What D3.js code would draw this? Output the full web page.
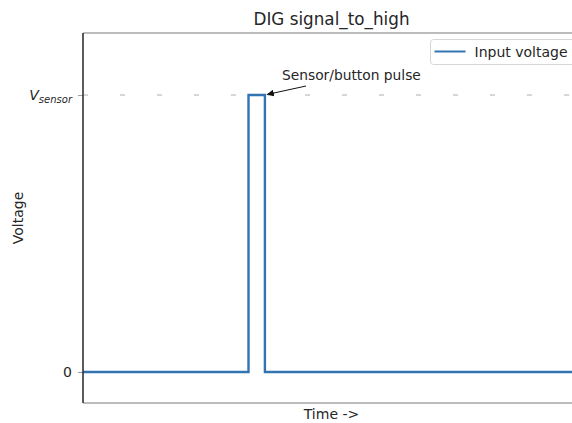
<!DOCTYPE html>
<html>
<head>
<meta charset="utf-8">
<script src="https://cdn.jsdelivr.net/npm/d3@7"></script>
<style>
  body { margin: 0; background: #fff; }
  svg { font-family: "DejaVu Sans", sans-serif; }
</style>
</head>
<body>
<div id="chart"></div>
<script>
// signal data: time (arbitrary units) and normalised voltage (1 = V_sensor)
const times = [0, 33.3, 33.3, 36.6, 36.6, 100];
const voltages = [0, 0, 1, 1, 0, 0];
const yTickValues = [0, 1];
const seriesName = 'Input voltage';
const annotationText = 'Sensor/button pulse';

const width = 572;
const height = 423;
const margin = { top: 33, right: -8, bottom: 20, left: 83 };
const plotRight = width - margin.right;
const plotBottom = height - margin.bottom;

const svg = d3.select('#chart')
    .append('svg')
    .attr('width', width)
    .attr('height', height);

const data = times.map((t, i) => ({ t: t, v: voltages[i] }));

// scales
const xScale = d3.scaleLinear()
    .domain([0, 100])
    .range([margin.left, plotRight]);

const yScale = d3.scaleLinear()
    .domain([-0.112, 1.224])
    .range([plotBottom, margin.top]);

// title
svg.append('text')
    .attr('x', (margin.left + plotRight) / 2)
    .attr('y', 25)
    .attr('text-anchor', 'middle')
    .attr('font-size', 16.8)
    .attr('fill', '#262626')
    .text('DIG signal_to_high');

// dashed reference line at V_sensor
svg.append('line')
    .attr('x1', xScale(0))
    .attr('x2', plotRight)
    .attr('y1', yScale(1))
    .attr('y2', yScale(1))
    .attr('stroke', '#b0b0b0')
    .attr('stroke-width', 1)
    .attr('stroke-dasharray', '5,32');

// the signal
const line = d3.line()
    .x(d => xScale(d.t))
    .y(d => yScale(d.v));

svg.append('path')
    .datum(data)
    .attr('d', line)
    .attr('fill', 'none')
    .attr('stroke', '#3274b2')
    .attr('stroke-width', 2.4);

// spines
svg.append('line')
    .attr('x1', margin.left).attr('x2', plotRight)
    .attr('y1', margin.top).attr('y2', margin.top)
    .attr('stroke', '#7a7a7a').attr('stroke-width', 1.2);
svg.append('line')
    .attr('x1', margin.left).attr('x2', plotRight)
    .attr('y1', plotBottom).attr('y2', plotBottom)
    .attr('stroke', '#7a7a7a').attr('stroke-width', 1.2);

// y axis
const yAxis = d3.axisLeft(yScale)
    .tickValues(yTickValues)
    .tickSize(5)
    .tickPadding(6)
    .tickFormat(d => d === 0 ? '0' : '');

const yAxisG = svg.append('g')
    .attr('transform', 'translate(' + margin.left + ',0)')
    .call(yAxis);

yAxisG.select('.domain').remove();
yAxisG.selectAll('.tick line').attr('stroke', '#999');
yAxisG.selectAll('.tick text')
    .attr('font-size', 14)
    .attr('font-family', '"DejaVu Sans", sans-serif')
    .attr('fill', '#262626');

// V_sensor label with subscript
const vLabel = yAxisG.selectAll('.tick')
    .filter(d => d === 1)
    .select('text')
    .attr('font-style', 'italic');
vLabel.append('tspan').text('V');
vLabel.append('tspan')
    .attr('font-size', 10)
    .attr('dy', 3)
    .text('sensor');

// left spine, darker
svg.append('line')
    .attr('x1', margin.left).attr('x2', margin.left)
    .attr('y1', margin.top).attr('y2', plotBottom)
    .attr('stroke', '#333').attr('stroke-width', 1.6);

// axis labels
svg.append('text')
    .attr('x', (margin.left + plotRight) / 2)
    .attr('y', 419)
    .attr('text-anchor', 'middle')
    .attr('font-size', 14)
    .attr('fill', '#262626')
    .text('Time ->');

svg.append('text')
    .attr('transform', 'translate(23,' + ((margin.top + plotBottom) / 2) + ') rotate(-90)')
    .attr('text-anchor', 'middle')
    .attr('font-size', 14)
    .attr('fill', '#262626')
    .text('Voltage');

// annotation with arrow
svg.append('defs').append('marker')
    .attr('id', 'arrow')
    .attr('viewBox', '0 0 10 10')
    .attr('refX', 10).attr('refY', 5)
    .attr('markerWidth', 7).attr('markerHeight', 7)
    .attr('markerUnits', 'userSpaceOnUse')
    .attr('orient', 'auto')
    .append('path')
    .attr('d', 'M0,0 L10,5 L0,10 z')
    .attr('fill', '#111');

const arrowTip = [xScale(times[3]) + 2, yScale(1) - 0.5];
svg.append('line')
    .attr('x1', 306).attr('y1', 86)
    .attr('x2', arrowTip[0]).attr('y2', arrowTip[1])
    .attr('stroke', '#111')
    .attr('stroke-width', 1)
    .attr('marker-end', 'url(#arrow)');

svg.append('text')
    .attr('x', 282)
    .attr('y', 80)
    .attr('font-size', 13.8)
    .attr('fill', '#262626')
    .text(annotationText);

// legend
const legend = svg.append('g')
    .attr('transform', 'translate(430.5,39.5)');

legend.append('rect')
    .attr('width', 148)
    .attr('height', 25)
    .attr('rx', 3)
    .attr('fill', '#fff')
    .attr('fill-opacity', 0.8)
    .attr('stroke', '#d6d6d6');

legend.append('line')
    .attr('x1', 4).attr('x2', 35)
    .attr('y1', 12).attr('y2', 12)
    .attr('stroke', '#3274b2')
    .attr('stroke-width', 2);

legend.append('text')
    .attr('x', 44)
    .attr('y', 17)
    .attr('font-size', 14)
    .attr('fill', '#262626')
    .text(seriesName);
</script>
</body>
</html>
